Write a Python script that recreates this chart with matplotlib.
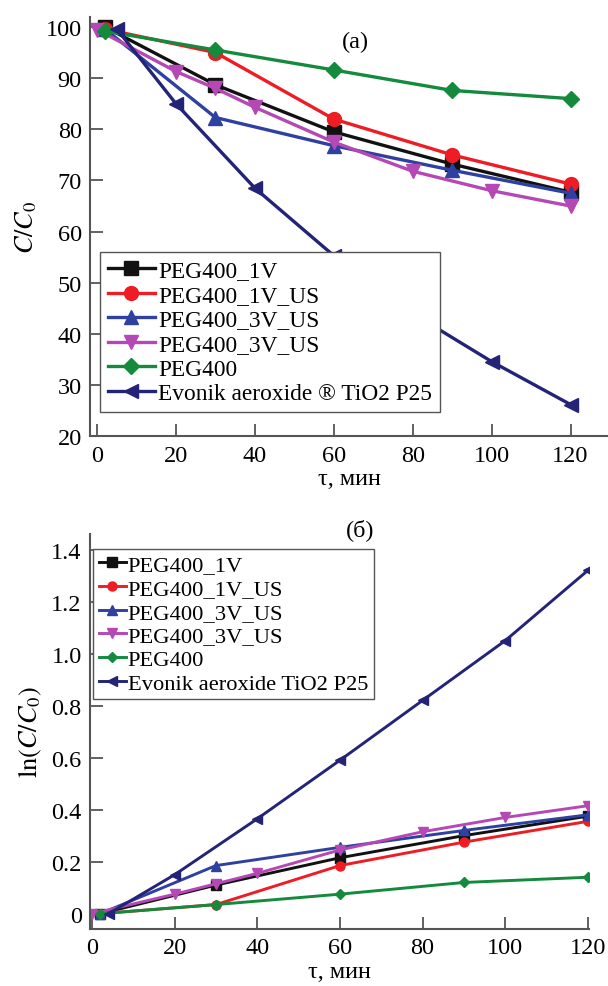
import matplotlib
matplotlib.use('Agg')
from matplotlib import pyplot as plt
from matplotlib.ticker import FuncFormatter

plt.rcParams['font.family'] = ['Liberation Serif', 'DejaVu Serif']
plt.rcParams['mathtext.fontset'] = 'stix'

labels_a = ['PEG400_1V', 'PEG400_1V_US', 'PEG400_3V_US', 'PEG400_3V_US', 'PEG400',
            'Evonik aeroxide \u00ae TiO2 P25']
labels_b = ['PEG400_1V', 'PEG400_1V_US', 'PEG400_3V_US', 'PEG400_3V_US', 'PEG400',
            'Evonik aeroxide TiO2 P25']
colors = ['#111111', '#ee1c24', '#2e40a0', '#b548b4', '#138a3c', '#232378']
markers = ['s', 'o', '^', 'v', 'D', '<']

# (a) C/C0, %
t_1v = [2, 30, 60, 90, 120]
c_1v = [100, 88.7, 79.5, 73.2, 67.7]
t_1v_us = [2, 30, 60, 90, 120]
c_1v_us = [99.6, 95.0, 82.0, 75.0, 69.3]
t_3v_us = [2, 30, 60, 90, 120]
c_3v_us = [99.6, 82.3, 76.8, 72.0, 67.5]
t_3v_us2 = [0, 20, 30, 40, 60, 80, 100, 120]
c_3v_us2 = [99.5, 91.3, 88.0, 84.3, 77.5, 71.8, 68.0, 65.0]
t_peg = [2, 30, 60, 90, 120]
c_peg = [99.2, 95.5, 91.6, 87.6, 86.0]
t_p25 = [5, 20, 40, 60, 80, 100, 120]
c_p25 = [99.6, 85.0, 68.5, 55.3, 44.0, 34.6, 26.2]

# (б) ln(C0/C)
lt_1v = [2, 30, 60, 90, 120]
l_1v = [0.0, 0.11, 0.215, 0.30, 0.375]
lt_1v_us = [2, 30, 60, 90, 120]
l_1v_us = [0.0, 0.035, 0.185, 0.275, 0.355]
lt_3v_us = [2, 30, 60, 90, 120]
l_3v_us = [0.0, 0.185, 0.255, 0.32, 0.38]
lt_3v_us2 = [0, 20, 30, 40, 60, 80, 100, 120]
l_3v_us2 = [0.0, 0.075, 0.115, 0.155, 0.245, 0.315, 0.37, 0.415]
lt_peg = [2, 30, 60, 90, 120]
l_peg = [0.0, 0.035, 0.075, 0.12, 0.14]
lt_p25 = [4, 20, 40, 60, 80, 100, 120]
l_p25 = [0.0, 0.15, 0.365, 0.59, 0.82, 1.05, 1.32]

series_a = [(t_1v, c_1v), (t_1v_us, c_1v_us), (t_3v_us, c_3v_us),
            (t_3v_us2, c_3v_us2), (t_peg, c_peg), (t_p25, c_p25)]
series_b = [(lt_1v, l_1v), (lt_1v_us, l_1v_us), (lt_3v_us, l_3v_us),
            (lt_3v_us2, l_3v_us2), (lt_peg, l_peg), (lt_p25, l_p25)]

fig = plt.figure(figsize=(6.08, 9.87), dpi=100)
ax1 = fig.add_axes([0.148, 0.557, 0.852, 0.425])
ax2 = fig.add_axes([0.148, 0.058, 0.821, 0.400])

gray = '#555555'


def style(ax):
    for s in ['top', 'right']:
        ax.spines[s].set_visible(False)
    for s in ['left', 'bottom']:
        ax.spines[s].set_color(gray)
        ax.spines[s].set_linewidth(1.5)
    ax.tick_params(direction='in', length=9, width=1.3, color=gray,
                   labelsize=17.5, pad=6)


# plot (a)
for (x, y), lab, c, m in zip(series_a, labels_a, colors, markers):
    ax1.plot(x, y, color=c, marker=m, markersize=10 if m != 'D' else 8.5,
             lw=2.4, label=lab)
ax1.set_xlim(-1.8, 129.5)
ax1.set_ylim(20, 102)
ax1.set_xticks(range(0, 121, 20))
ax1.set_yticks(range(20, 101, 10))
style(ax1)
ax1.set_ylabel(r'$C/C_0$', fontsize=19, labelpad=5)
ax1.set_xlabel('\u03c4, \u043c\u0438\u043d', fontsize=17.5, labelpad=2)
leg1 = ax1.legend(loc='upper left', bbox_to_anchor=(0.019, 0.44), borderaxespad=0,
                  fontsize=16.8, handlelength=2.0, handletextpad=0.15,
                  labelspacing=0.14, borderpad=0.35, fancybox=False,
                  framealpha=1, edgecolor=gray)
leg1.get_frame().set_linewidth(1.0)
ax1.text(0.512, 0.94, '(a)', transform=ax1.transAxes, fontsize=17.5,
         ha='center', va='center')

# plot (б)
for (x, y), lab, c, m in zip(series_b, labels_b, colors, markers):
    ax2.plot(x, y, color=c, marker=m, markersize=6.5 if m != 'D' else 5.5,
             lw=2.1, label=lab)
ax2.set_xlim(-0.5, 120.3)
ax2.set_ylim(-0.058, 1.46)
ax2.set_xticks(range(0, 121, 20))
ax2.set_yticks([0, 0.2, 0.4, 0.6, 0.8, 1.0, 1.2, 1.4])
ax2.yaxis.set_major_formatter(FuncFormatter(lambda v, p: '0' if v == 0 else '%.1f' % v))
style(ax2)
ax2.set_ylabel(r'$\mathrm{ln}(C/C_0)$', fontsize=19, labelpad=5)
ax2.set_xlabel('\u03c4, \u043c\u0438\u043d', fontsize=17.5, labelpad=2)
leg2 = ax2.legend(loc='upper left', bbox_to_anchor=(0.006, 0.962), borderaxespad=0,
                  fontsize=16.2, handlelength=1.2, handletextpad=0.1,
                  labelspacing=0.13, borderpad=0.25, fancybox=False,
                  framealpha=1, edgecolor=gray)
leg2.get_frame().set_linewidth(1.0)
fig.text(360 / 608, 1 - 530 / 987, '(\u0431)', fontsize=17.5, ha='center', va='center')

fig.savefig('out.png', dpi=100)
